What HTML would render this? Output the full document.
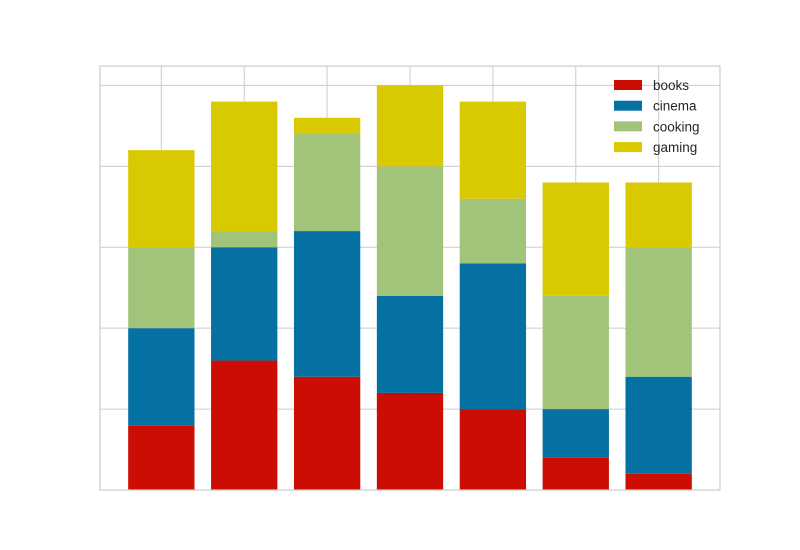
<!DOCTYPE html>
<html><head><meta charset="utf-8"><style>
body{margin:0;background:#fff;}
svg{display:block;font-family:"Liberation Sans","DejaVu Sans",sans-serif;}
</style></head><body>
<svg id="chart" width="800" height="550"></svg>
<script>
const categories = ["c1","c2","c3","c4","c5","c6","c7"];
const books   = [4, 8, 7, 6, 5, 2, 1];
const cinema  = [6, 7, 9, 6, 9, 3, 6];
const cooking = [5, 1, 6, 8, 4, 7, 8];
const gaming  = [6, 8, 1, 5, 6, 7, 4];
const yTicks = [0, 5, 10, 15, 20, 25];
const seriesNames = ["books","cinema","cooking","gaming"];

const colors = ["#cb0d04","#0571a3","#a1c47a","#d8c900"];
const L=100,R=720,T=66,B=490;
const yMax=26.2, xMin=-0.74, xMax=categories.length-1+0.74;
const sx=i=>L+(i-xMin)/(xMax-xMin)*(R-L);
const sy=v=>B-v/yMax*(B-T);
const ns="http://www.w3.org/2000/svg";
const svg=document.getElementById("chart");
function mk(tag,attrs,parent){const e=document.createElementNS(ns,tag);for(const k in attrs)e.setAttribute(k,attrs[k]);(parent||svg).appendChild(e);return e;}
const grid=mk("g",{});


yTicks.forEach(t=>{const l=mk("line",{x1:L,x2:R,y1:sy(t),y2:sy(t),stroke:"#cccccc","stroke-width":1},grid);

});
categories.forEach((c,i)=>{const l=mk("line",{x1:sx(i),x2:sx(i),y1:T,y2:B,stroke:"#cccccc","stroke-width":1},grid);

});
const data=[books,cinema,cooking,gaming];
const bw=0.8*(sx(1)-sx(0));
categories.forEach((c,i)=>{let base=0;
data.forEach((s,k)=>{const r=mk("rect",{x:sx(i)-bw/2,y:sy(base+s[i]),width:bw,height:sy(base)-sy(base+s[i]),fill:colors[k]});


base+=s[i];});});
const fr=mk("rect",{x:L,y:T,width:R-L,height:B-T,fill:"none",stroke:"#cccccc","stroke-width":1.2});


const lg=mk("g",{});


seriesNames.forEach((n,k)=>{const y=85+k*20.7;
const e=mk("g",{},lg);


mk("rect",{x:614,y:y-5,width:28,height:10,fill:colors[k]},e);
const t=mk("text",{x:653,y:y+5,"font-size":13.5,fill:"#262626"},e);t.textContent=n;});
</script>
</body></html>
